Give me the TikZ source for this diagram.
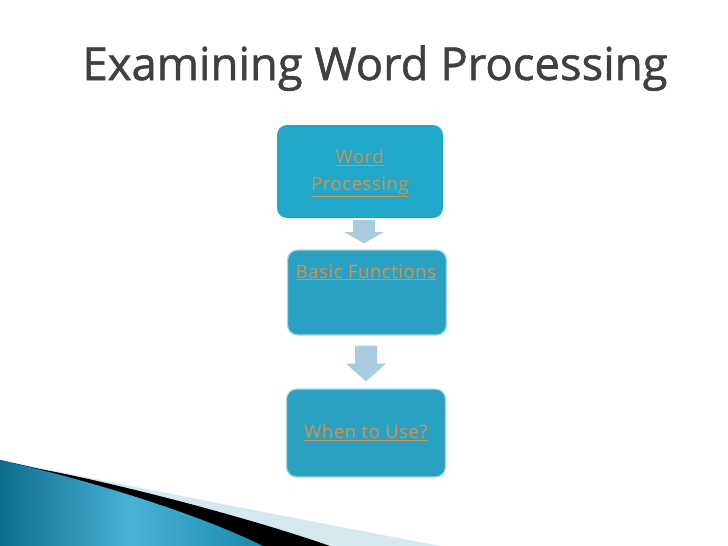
\documentclass[tikz,border=0pt]{standalone}
\usepackage{fontspec}
\setmainfont{Open Sans}
\usetikzlibrary{calc}
\definecolor{titlec}{HTML}{404040}
\definecolor{box1c}{HTML}{1FA8CA}
\definecolor{box2c}{HTML}{2AA1C2}
\definecolor{edgec}{HTML}{A6DAE8}
\definecolor{linkc}{HTML}{D4924B}
\definecolor{arrowc}{HTML}{A8CCDD}
\definecolor{swlight}{HTML}{D5E8F0}
\definecolor{swdark}{HTML}{0E6C8D}
\definecolor{swmid}{HTML}{49B3D7}
\definecolor{swright}{HTML}{1B88AA}
\newcommand{\lnk}[1]{\underline{#1}}
\begin{document}
\begin{tikzpicture}[x=1pt,y=-1pt,
  boxa/.style={rounded corners=10pt, fill=box1c, inner sep=0pt},
  boxb/.style={rounded corners=10pt, fill=box2c, draw=edgec, line width=1.2pt, inner sep=0pt},
  linktext/.style={text=linkc, font=\fontsize{18.5}{27}\selectfont\addfontfeature{LetterSpace=3}, align=center},
  blockarrow/.style={fill=arrowc}]
\useasboundingbox[fill=white] (0,0) rectangle (728,546);

% swoosh
\fill[swlight] (0,460) -- (60,472) .. controls (150,490) and (330,525) .. (440,546) -- (0,546) -- cycle;
\fill[black] (0,460) -- (40,469) .. controls (120,484) and (250,518) .. (330,546) -- (0,546) -- cycle;
\shade[left color=swdark, right color=swright, middle color=swmid]
  (0,460) .. controls (100,483) and (200,515) .. (263,546) -- (0,546) -- cycle;

% title
\node[text=titlec, anchor=base] (title) at (375,80)
  {\resizebox{585pt}{!}{\fontsize{40}{48}\selectfont\addfontfeature{FakeBold=1.2} Examining Word Processing}};

% boxes
\node[boxa, minimum width=166pt, minimum height=93pt] (b1) at (360,171.5) {};
\node[linktext] (b1t) at ($(b1.center)+(0,2)$) {\lnk{Word}\\\lnk{Processing}};

\node[boxb, minimum width=159pt, minimum height=85pt] (b2) at (367,292.5) {};
\node[linktext, anchor=center] (b2t) at ($(b2.north)+(-1,23)$) {\lnk{Basic Functions}};

\node[boxb, minimum width=159pt, minimum height=88pt] (b3) at (366,433) {};
\node[linktext] (b3t) at (b3.center) {\lnk{When to Use?}};

% block arrows
\coordinate (a1) at ($(b1.south)+(4,0)$);
\fill[blockarrow] ($(a1)+(-11,2)$) -- ($(a1)+(11,2)$) -- ($(a1)+(11,14)$) -- ($(a1)+(19.5,14)$)
  -- ($(b2.north)+(-3,-6)$) -- ($(a1)+(-19.5,14)$) -- ($(a1)+(-11,14)$) -- cycle;
\coordinate (a2) at ($(b2.south)+(-1,0)$);
\fill[blockarrow] ($(a2)+(-11,10)$) -- ($(a2)+(11,10)$) -- ($(a2)+(11,28)$) -- ($(a2)+(20,28)$)
  -- ($(b3.north)+(0,-7)$) -- ($(a2)+(-20,28)$) -- ($(a2)+(-11,28)$) -- cycle;
\end{tikzpicture}
\end{document}
